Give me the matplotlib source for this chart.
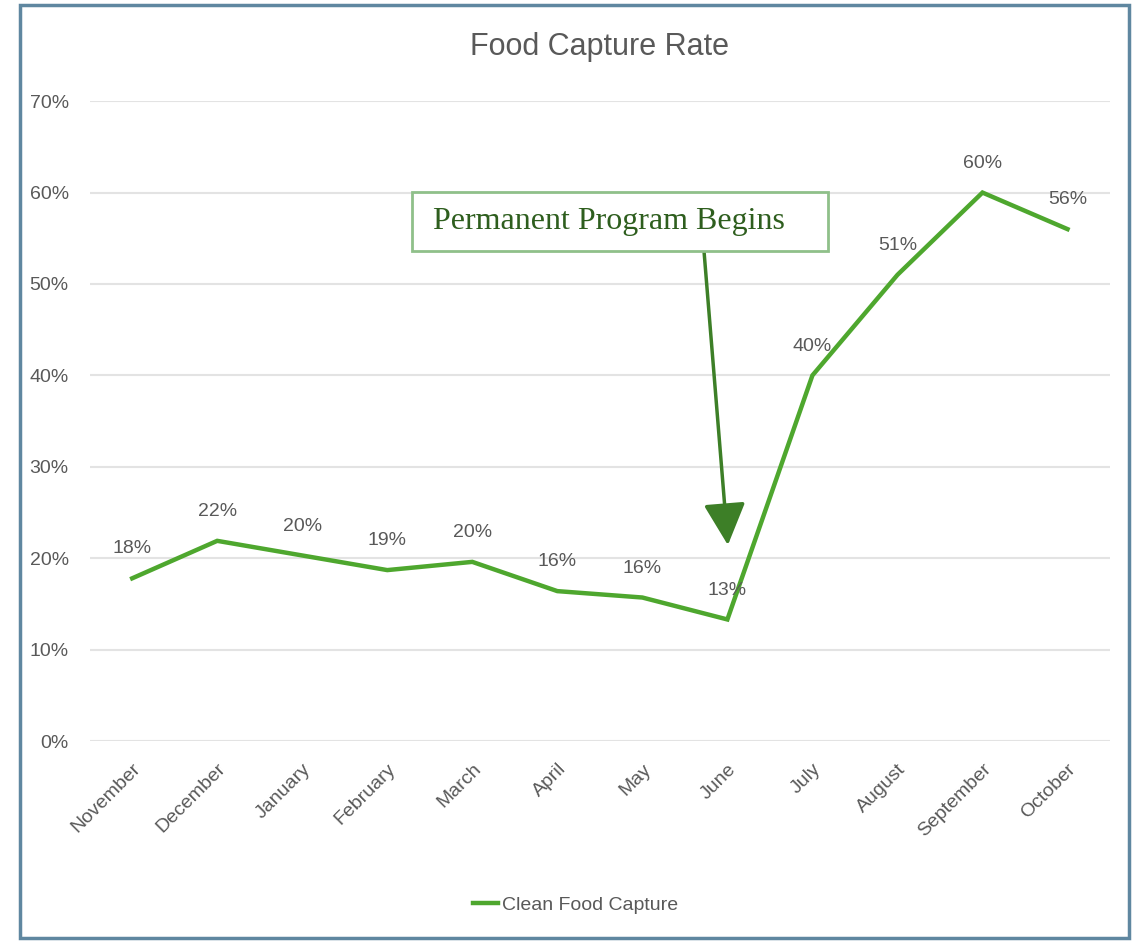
import matplotlib
matplotlib.use("Agg")
import matplotlib.pyplot as plt
from matplotlib.patches import Rectangle
from matplotlib.ticker import PercentFormatter

months = ["November", "December", "January", "February", "March", "April",
          "May", "June", "July", "August", "September", "October"]
capture = [0.178, 0.219, 0.203, 0.187, 0.196, 0.164,
           0.157, 0.133, 0.40, 0.51, 0.60, 0.56]
series_name = "Clean Food Capture"
note = "Permanent Program Begins"
note_month = "June"

line_color = "#4ea72e"
text_grey = "#595959"

plt.rcParams["font.family"] = ["Liberation Sans", "DejaVu Sans"]

fig = plt.figure(figsize=(11.35, 9.41), dpi=100)
ax = fig.add_axes([0.079, 0.2125, 0.899, 0.68])

x = list(range(len(months)))
ax.plot(x, capture, color=line_color, lw=3.2, label=series_name,
        solid_joinstyle="miter")

for xi, v in zip(x, capture):
    ax.annotate(f"{v:.0%}", (xi, v), xytext=(0, 15), textcoords="offset points",
                ha="center", va="bottom", fontsize=14, color=text_grey)

ax.set_xlim(-0.5, len(months) - 0.5)
ax.set_ylim(0, 0.70)
ax.set_yticks([i / 10 for i in range(8)])
ax.yaxis.set_major_formatter(PercentFormatter(1.0, decimals=0))
ax.set_xticks(x)
ax.set_xticklabels(months, rotation=45, ha="right", rotation_mode="anchor")
ax.tick_params(axis="both", length=0, labelsize=14, labelcolor=text_grey)
ax.tick_params(axis="y", pad=15)
ax.tick_params(axis="x", pad=14)
ax.grid(axis="y", color="#e3e3e3", lw=1.5)
ax.set_axisbelow(True)
for s in ax.spines.values():
    s.set_visible(False)

ax.set_title("Food Capture Rate", fontsize=22, color=text_grey, pad=33)

# annotation box with arrow pointing to the program start
jx = months.index(note_month)
ax.annotate("", xy=(jx + 0.006, 0.2144), xytext=(jx - 0.276, 0.537),
            arrowprops=dict(arrowstyle="-|>,head_length=2.6,head_width=1.3",
                            color="#3d7f27", lw=2.5, shrinkA=0, shrinkB=0))
ax.add_patch(Rectangle((0.3157, 0.7656), 0.4078, 0.0922, transform=ax.transAxes,
                       fc="white", ec="#8fc08a", lw=2, zorder=4))
ax.text(0.336, 0.8125, note, transform=ax.transAxes, ha="left", va="center",
        fontsize=23, color="#2e5e1e", family=["Liberation Serif", "DejaVu Serif"],
        zorder=5)

fig.legend(loc="center", bbox_to_anchor=(0.507, 0.038), frameon=False,
           fontsize=14, labelcolor=text_grey, handlelength=1.3, handletextpad=0.2)

fig.patches.append(Rectangle((0.018, 0.003), 0.977, 0.992, transform=fig.transFigure,
                             fill=False, ec="#5f87a0", lw=2.5))

fig.savefig("out.png", dpi=100)
